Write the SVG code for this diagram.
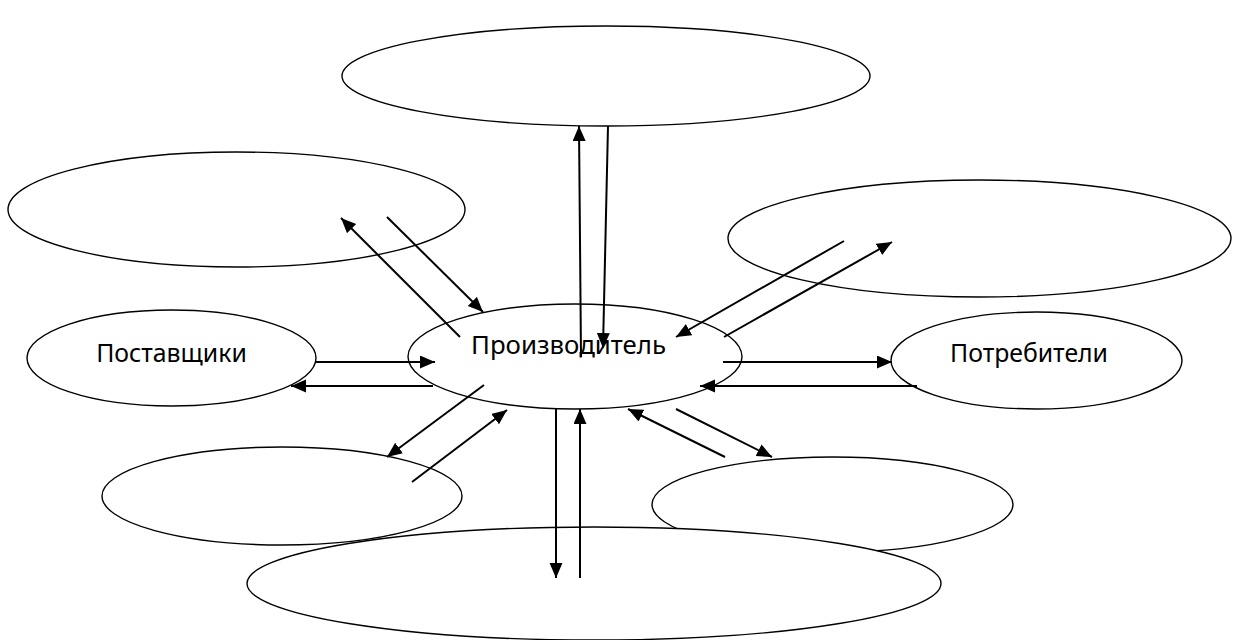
<svg xmlns="http://www.w3.org/2000/svg" width="1239" height="640" viewBox="0 0 1239 640">
<style>
  .node { fill: #ffffff; stroke: #000000; stroke-width: 1.4; }
  .conn { stroke: #000000; stroke-width: 2; fill: none; marker-end: url(#arrow); }
  .lbl { font-family: "Noto Sans", "Open Sans", sans-serif; font-size: 24.8px; fill: #000000; text-anchor: middle; }
  .big { font-size: 25.8px; }
</style>
<defs>
  <marker id="arrow" markerUnits="userSpaceOnUse" markerWidth="16" markerHeight="14" refX="15" refY="6.5" orient="auto">
    <path d="M0,0 L15,6.5 L0,13 z" fill="#000000"/>
  </marker>
</defs>
<rect width="1239" height="640" fill="#ffffff"/>
<g id="node-top"><ellipse class="node" cx="606" cy="76" rx="264" ry="50"/></g>
<g id="node-upper-left"><ellipse class="node" cx="236.5" cy="209.5" rx="228.5" ry="57.5"/></g>
<g id="node-upper-right"><ellipse class="node" cx="979.5" cy="238.5" rx="251.5" ry="58.5"/></g>
<g id="node-suppliers"><ellipse class="node" cx="171.5" cy="358" rx="144.5" ry="48"/></g>
<g id="node-consumers"><ellipse class="node" cx="1036.5" cy="360.5" rx="145.5" ry="48.5"/></g>
<g id="node-lower-left"><ellipse class="node" cx="282" cy="496" rx="180" ry="49"/></g>
<g id="node-lower-right"><ellipse class="node" cx="832.5" cy="504.5" rx="180.5" ry="47.5"/></g>
<g id="node-bottom"><ellipse class="node" cx="594" cy="583.5" rx="347" ry="56.5"/></g>
<g id="node-producer"><ellipse class="node" cx="575" cy="356.5" rx="167" ry="52.5"/></g>
<g id="connectors">
  <line class="conn" x1="581" y1="357" x2="579" y2="126"/>
  <line class="conn" x1="608" y1="126" x2="603" y2="348"/>
  <line class="conn" x1="460" y1="337" x2="341" y2="218"/>
  <line class="conn" x1="387" y1="217" x2="483" y2="312"/>
  <line class="conn" x1="844" y1="241" x2="676" y2="337"/>
  <line class="conn" x1="724" y1="337" x2="892" y2="242"/>
  <line class="conn" x1="723" y1="362" x2="892" y2="362"/>
  <line class="conn" x1="917" y1="386" x2="700" y2="386"/>
  <line class="conn" x1="725" y1="457" x2="628" y2="409"/>
  <line class="conn" x1="676" y1="409" x2="772" y2="457"/>
  <line class="conn" x1="316" y1="362" x2="435" y2="362"/>
  <line class="conn" x1="433" y1="386" x2="291" y2="386"/>
  <line class="conn" x1="484" y1="385" x2="387" y2="457"/>
  <line class="conn" x1="412" y1="482" x2="507" y2="410"/>
  <line class="conn" x1="556" y1="409" x2="556" y2="578"/>
  <line class="conn" x1="580" y1="578" x2="580" y2="409"/>
</g>
<g id="labels">
  <text class="lbl big" x="568.5" y="354">Производитель</text>
  <text class="lbl" x="171.5" y="362">Поставщики</text>
  <text class="lbl" x="1029" y="362">Потребители</text>
</g>
</svg>
